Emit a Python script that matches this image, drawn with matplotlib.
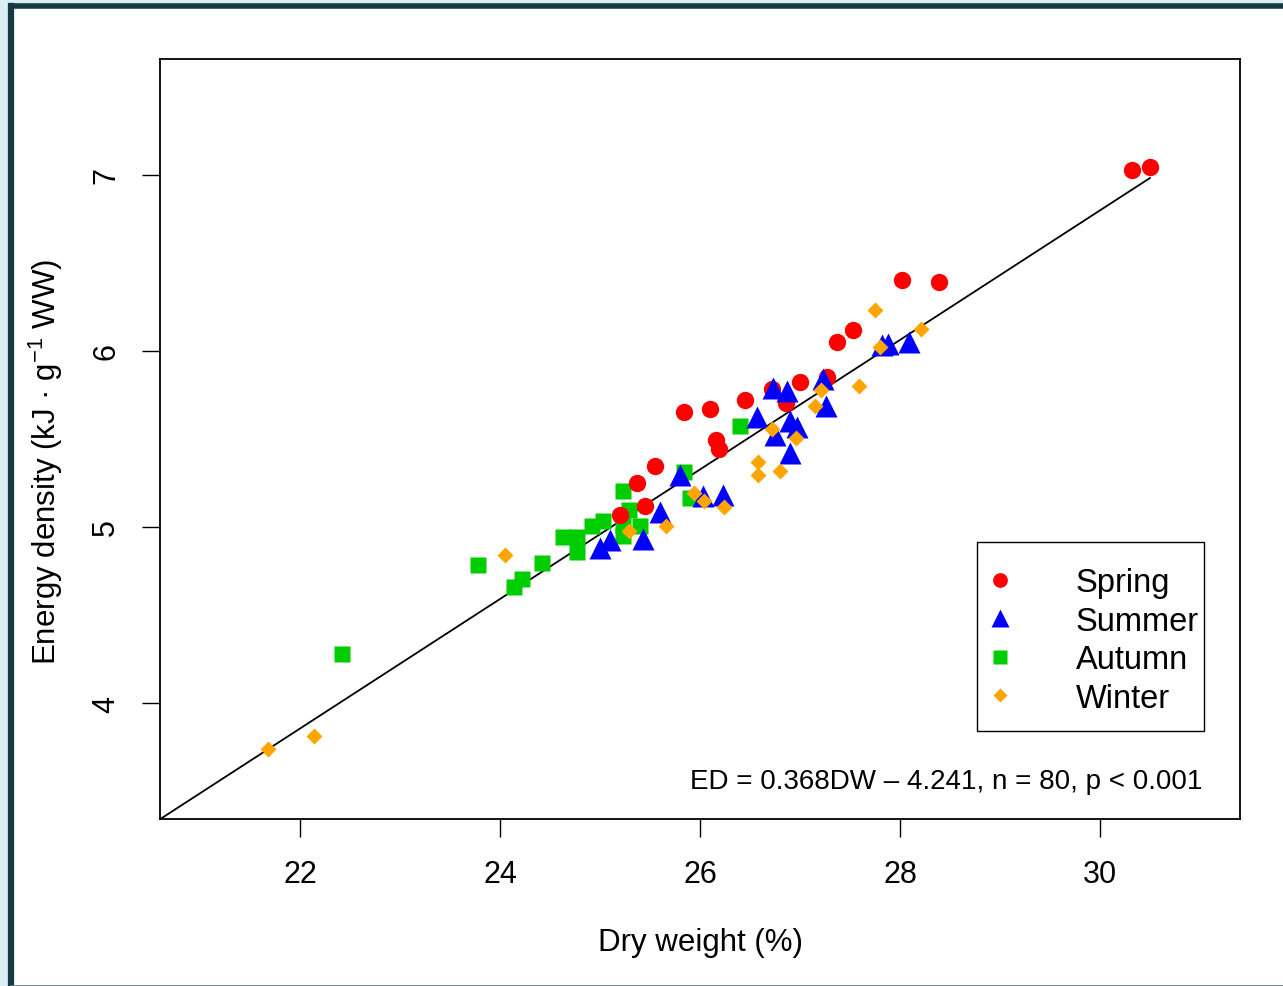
import numpy as np
import matplotlib.pyplot as plt
from matplotlib.patches import Rectangle
from matplotlib.lines import Line2D

plt.rcParams['font.family'] = ['Liberation Sans', 'DejaVu Sans']
plt.rcParams['mathtext.fontset'] = 'custom'
plt.rcParams['mathtext.rm'] = 'Liberation Sans'

# dry weight (%) and energy density (kJ/g WW) per season
spring_dw = [25.84, 26.10, 26.45, 26.16, 26.19, 25.55, 25.37, 25.45, 25.20, 26.72,
             26.86, 27.00, 27.27, 27.37, 27.53, 28.02, 28.39, 30.32, 30.50]
spring_ed = [5.653, 5.670, 5.722, 5.494, 5.443, 5.347, 5.250, 5.119, 5.068, 5.784,
             5.705, 5.824, 5.852, 6.051, 6.119, 6.403, 6.392, 7.028, 7.045]

summer_dw = [25.00, 25.10, 25.43, 25.60, 25.80, 26.03, 26.23, 26.57, 26.75, 26.73,
             26.87, 26.90, 26.97, 26.90, 27.23, 27.26, 27.82, 27.88, 28.09]
summer_ed = [4.881, 4.926, 4.932, 5.085, 5.295, 5.176, 5.182, 5.625, 5.523, 5.790,
             5.773, 5.602, 5.568, 5.420, 5.841, 5.688, 6.034, 6.040, 6.051]

autumn_dw = [22.42, 23.78, 24.14, 24.22, 24.42, 24.63, 24.77, 24.77, 24.92, 25.03,
             25.23, 25.29, 25.23, 25.23, 25.40, 25.84, 25.90, 26.40]
autumn_ed = [4.278, 4.784, 4.659, 4.705, 4.795, 4.943, 4.943, 4.858, 5.006, 5.034,
             5.205, 5.097, 4.949, 5.011, 5.006, 5.313, 5.165, 5.574]

winter_dw = [21.68, 22.14, 24.05, 25.29, 25.66, 25.94, 26.04, 26.24, 26.58, 26.58,
             26.80, 26.72, 26.96, 27.15, 27.21, 27.59, 27.75, 27.80, 28.21]
winter_ed = [3.739, 3.813, 4.841, 4.977, 5.006, 5.193, 5.148, 5.114, 5.369, 5.295,
             5.318, 5.557, 5.506, 5.688, 5.778, 5.801, 6.233, 6.023, 6.125]

# regression ED = slope*DW + intercept
slope = 0.368
intercept = -4.241
fit_x = [20.6, 30.5]

x_ticks = [22, 24, 26, 28, 30]
y_ticks = [4, 5, 6, 7]

fig = plt.figure(figsize=(12.83, 9.87), dpi=100)
fig.patch.set_facecolor('#dbeef4')

# white panel with dark frame on top and left
W, H = 1283, 987
fig.add_artist(Rectangle((11 / W, 0), 1, 1 - 6.5 / H, transform=fig.transFigure,
                         facecolor='white', edgecolor='none', zorder=-10))
fig.add_artist(Line2D([11 / W, 1], [1 - 6.5 / H, 1 - 6.5 / H], transform=fig.transFigure,
                      color='#163a44', lw=4.0, zorder=-9))
fig.add_artist(Line2D([11 / W, 11 / W], [0, 1 - 6.5 / H], transform=fig.transFigure,
                      color='#163a44', lw=4.5, zorder=-9))
fig.add_artist(Line2D([11 / W, 1], [0.5 / H, 0.5 / H], transform=fig.transFigure,
                      color='#5c7b86', lw=1.2, zorder=-9))

ax = fig.add_axes([160 / W, 1 - 820 / H, 1080 / W, 760 / H])
ax.set_facecolor('white')

ax.plot(fit_x, [slope * v + intercept for v in fit_x], color='black', lw=1.3, zorder=1)

ax.plot(spring_dw, spring_ed, 'o', color='#ff0000', ms=12.5, mec='none', zorder=3, label='Spring')
ax.plot(summer_dw, summer_ed, '^', color='#0000ff', ms=15.5, mec='none', zorder=3, label='Summer')
ax.plot(autumn_dw, autumn_ed, 's', color='#00cd00', ms=12, mec='none', zorder=2, label='Autumn')
ax.plot(winter_dw, winter_ed, 'D', color='#ffa500', ms=8.5, mec='none', zorder=4, label='Winter')

ax.set_xlim(20.6, 31.4)
ax.set_ylim(3.341, 7.659)
ax.set_xticks(x_ticks)
ax.set_yticks(y_ticks)
ax.tick_params(length=13, width=1, labelsize=22, pad=16)
ax.tick_params(axis='y', labelrotation=90, pad=15)
for lab in ax.get_yticklabels():
    lab.set_va('center')
for sp in ax.spines.values():
    sp.set_linewidth(1.3)

ax.set_xlabel('Dry weight (%)', fontsize=22.5, labelpad=27)
ax.set_ylabel(r'Energy density (kJ · g$\mathregular{^{-1}}$ WW)', fontsize=22.5)
ax.yaxis.set_label_coords(-0.088, 0.472)

# legend box drawn separately, entries placed inside
box_x0, box_x1 = (977 - 160) / 1080, (1204 - 160) / 1080
box_y0, box_y1 = (820 - 732) / 760, (820 - 543) / 760
ax.add_patch(Rectangle((box_x0, box_y0), box_x1 - box_x0, box_y1 - box_y0,
                       transform=ax.transAxes, facecolor='white', edgecolor='black',
                       lw=1.0, zorder=5))
leg = ax.legend(loc='center left', bbox_to_anchor=(box_x0, (box_y0 + box_y1) / 2 - 0.005),
                borderaxespad=0, fontsize=23.5, handlelength=0.88, handletextpad=1.9,
                labelspacing=0.23, borderpad=0.25, markerscale=0.85, frameon=False)
leg.set_zorder(6)

ax.text(0.965, 0.05, 'ED = 0.368DW – 4.241, n = 80, p < 0.001', transform=ax.transAxes,
        ha='right', va='center', fontsize=20)

fig.savefig('out.png', dpi=100, facecolor=fig.get_facecolor())
